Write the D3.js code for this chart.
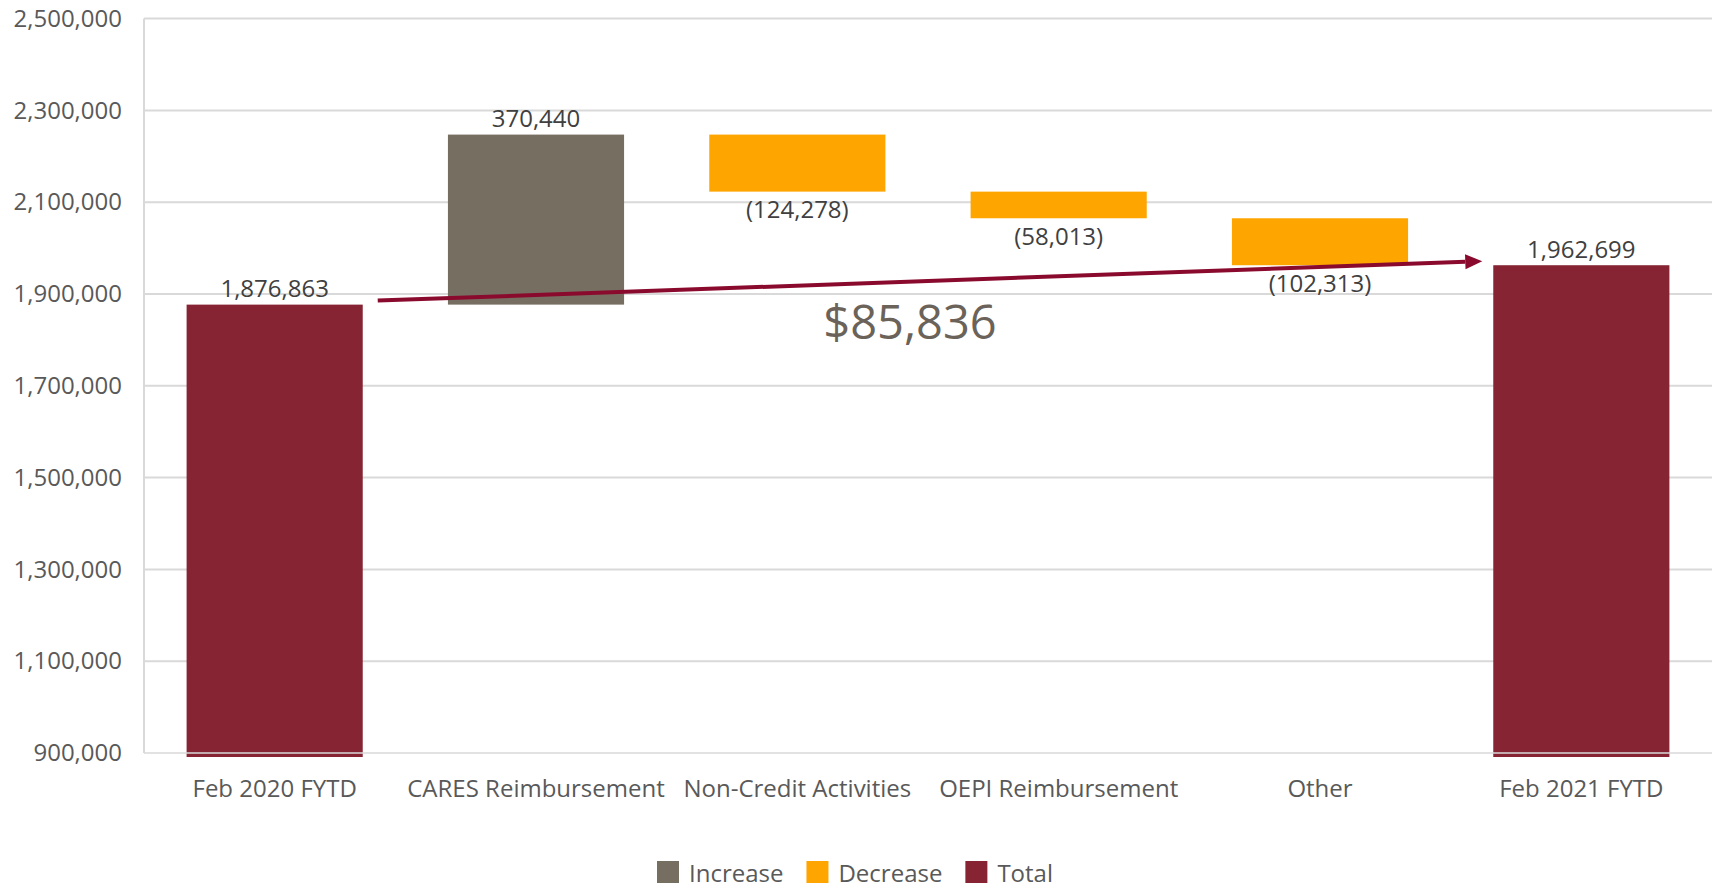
<!DOCTYPE html>
<html>
<head>
<meta charset="utf-8">
<script src="https://cdn.jsdelivr.net/npm/d3@7"></script>
<style>
  html, body { margin: 0; padding: 0; background: #fff; }
  svg text { font-family: "Open Sans", "Noto Sans", sans-serif; }
</style>
</head>
<body>
<svg id="chart" width="1719" height="894"></svg>
<script>
const categories = ["Feb 2020 FYTD", "CARES Reimbursement", "Non-Credit Activities", "OEPI Reimbursement", "Other", "Feb 2021 FYTD"];
const values = [1876863, 370440, -124278, -58013, -102313, 1962699];
const kinds = ["Total", "Increase", "Decrease", "Decrease", "Decrease", "Total"];
const yTicks = [900000, 1100000, 1300000, 1500000, 1700000, 1900000, 2100000, 2300000, 2500000];
const legendItems = ["Increase", "Decrease", "Total"];
const annotationText = "$85,836";

const colors = { Increase: "#776E62", Decrease: "#FFA500", Total: "#862433" };
const arrowColor = "#8A0A2E";

const svg = d3.select("#chart");
const plotLeft = 144, plotRight = 1712, plotTop = 18.6, plotBottom = 753;

const x = d3.scaleBand().domain(categories).range([plotLeft, plotRight]).paddingInner(0.326).paddingOuter(0.163);
const y = d3.scaleLinear().domain([yTicks[0], yTicks[yTicks.length - 1]]).range([plotBottom, plotTop]);

// waterfall computation
let running = 0;
const bars = categories.map((c, i) => {
  const k = kinds[i];
  let start, end;
  if (k === "Total") { start = yTicks[0]; end = values[i]; running = values[i]; }
  else { start = running; end = running + values[i]; running = end; }
  return { cat: c, kind: k, value: values[i], start, end };
});

// gridlines
svg.append("g").selectAll("line").data(yTicks.slice(1)).join("line")
  .attr("x1", plotLeft).attr("x2", plotRight)
  .attr("y1", d => y(d)).attr("y2", d => y(d))
  .attr("stroke", "#d9d9d9").attr("stroke-width", 2);
// left axis line
svg.append("line").attr("x1", plotLeft).attr("x2", plotLeft).attr("y1", plotTop).attr("y2", plotBottom)
  .attr("stroke", "#d9d9d9").attr("stroke-width", 2);

// y axis
const yAxis = d3.axisLeft(y).tickValues(yTicks).tickFormat(d3.format(",")).tickSize(0).tickPadding(0);
const gy = svg.append("g").attr("transform", `translate(${plotLeft - 22},0)`).call(yAxis);
gy.select(".domain").remove();
gy.selectAll("text").attr("font-size", 24).attr("fill", "#595959")
  .attr("font-family", "'Open Sans', sans-serif");

// bars
svg.append("g").selectAll("rect").data(bars).join("rect")
  .attr("x", d => x(d.cat))
  .attr("width", x.bandwidth())
  .attr("y", d => y(Math.max(d.start, d.end)))
  .attr("height", d => Math.abs(y(d.start) - y(d.end)) + (d.kind === "Total" ? 4 : 0))
  .attr("fill", d => colors[d.kind]);

// bottom axis line over bars
svg.append("line").attr("x1", plotLeft).attr("x2", plotRight).attr("y1", y(yTicks[0])).attr("y2", y(yTicks[0]))
  .attr("stroke", "#d9d9d9").attr("stroke-width", 2).attr("opacity", 0.75);

// x axis labels
const xAxis = d3.axisBottom(x).tickSize(0).tickPadding(0);
const gx = svg.append("g").attr("transform", `translate(0,${plotBottom + 27})`).call(xAxis);
gx.select(".domain").remove();
gx.selectAll("text").attr("font-size", 24).attr("fill", "#595959")
  .attr("font-family", "'Open Sans', sans-serif");

// data labels
const fmt = d3.format(",");
svg.append("g").selectAll("text").data(bars).join("text")
  .attr("x", d => x(d.cat) + x.bandwidth() / 2)
  .attr("y", d => d.kind === "Decrease" ? y(Math.min(d.start, d.end)) + 17 : y(Math.max(d.start, d.end)) - 17)
  .attr("dominant-baseline", "central")
  .attr("text-anchor", "middle")
  .attr("font-size", 24)
  .attr("fill", "#404040")
  .text(d => d.value < 0 ? `(${fmt(-d.value)})` : fmt(d.value));

// arrow between totals
const first = bars[0], last = bars[bars.length - 1];
const x1 = x(first.cat) + x.bandwidth() + 15, y1 = y(first.end) - 4;
const x2 = x(last.cat) - 11, y2 = y(last.end) - 4;
const ang = Math.atan2(y2 - y1, x2 - x1);
const headLen = 17, headHalf = 7.5;
const bx = x2 - headLen * Math.cos(ang), by = y2 - headLen * Math.sin(ang);
svg.append("line").attr("x1", x1).attr("y1", y1).attr("x2", bx).attr("y2", by)
  .attr("stroke", arrowColor).attr("stroke-width", 4);
svg.append("path")
  .attr("d", `M${x2},${y2} L${bx - headHalf * Math.sin(ang)},${by + headHalf * Math.cos(ang)} L${bx + headHalf * Math.sin(ang)},${by - headHalf * Math.cos(ang)} Z`)
  .attr("fill", arrowColor);

svg.append("text")
  .attr("x", (x1 + x2) / 2 - 20)
  .attr("y", (y1 + y2) / 2 + 40)
  .attr("dominant-baseline", "central")
  .attr("text-anchor", "middle")
  .attr("font-size", 47)
  .attr("fill", "#6B6359")
  .text(annotationText);

// legend
const legend = svg.append("g").attr("transform", "translate(657,861)");
let lx = 0;
legendItems.forEach(name => {
  const g = legend.append("g").attr("transform", `translate(${lx},0)`);
  g.append("rect").attr("width", 22).attr("height", 22).attr("fill", colors[name]);
  const t = g.append("text").attr("x", 32).attr("y", 11).attr("dominant-baseline", "central")
    .attr("font-size", 24).attr("fill", "#595959").text(name);
  lx += 32 + t.node().getComputedTextLength() + 23;
});
</script>
</body>
</html>
